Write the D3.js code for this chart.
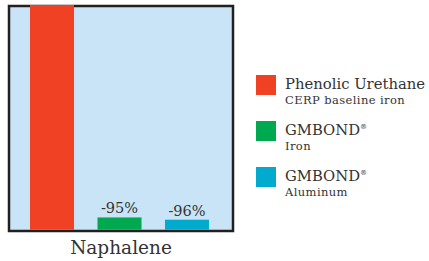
<!DOCTYPE html>
<html>
<head>
<meta charset="utf-8">
<script src="https://cdn.jsdelivr.net/npm/d3@7"></script>
<style>
  body { margin: 0; background: #fff; }
</style>
</head>
<body>
<svg id="chart"></svg>
<script>
const svgWidth = 429;
const svgHeight = 261;

// data
const categories = ["Phenolic Urethane", "GMBOND Iron", "GMBOND Aluminum"];
const values = [100, 6, 5];
const barLabels = ["", "-95%", "-96%"];
const colors = ["#f04124", "#00a94f", "#00abcd"];
const legendTitles = ["Phenolic Urethane", "GMBOND", "GMBOND"];
const legendSupers = ["", "®", "®"];
const legendSubs = ["CERP baseline iron", "Iron", "Aluminum"];
const groupLabel = "Naphalene";

const serif = "'DejaVu Serif', 'Liberation Serif', serif";

const svg = d3.select("#chart")
    .attr("width", svgWidth)
    .attr("height", svgHeight)
    .attr("font-family", serif);

const frame = {left: 9, right: 233, top: 6, bottom: 231};

const x = d3.scaleBand()
    .domain(categories)
    .range([18.25, 220.75])
    .paddingInner(0.348)
    .paddingOuter(0.174);

const y = d3.scaleLinear()
    .domain([0, 100])
    .range([frame.bottom, 5]);

// plot background
svg.append("rect")
    .attr("x", frame.left)
    .attr("y", frame.top)
    .attr("width", frame.right - frame.left)
    .attr("height", frame.bottom - frame.top)
    .attr("fill", "#c8e4f6")
    .attr("stroke", "#231f20")
    .attr("stroke-width", 2.5)

const bars = svg.append("g")
bars.selectAll("rect")
    .data(categories)
    .join("rect")
    .attr("x", d => x(d))
    .attr("y", (d, i) => y(values[i]))
    .attr("width", x.bandwidth())
    .attr("height", (d, i) => y(0) - y(values[i]) - 1.25)
    .attr("fill", (d, i) => colors[i])

bars.selectAll("text")
    .data(categories)
    .join("text")
    .attr("x", d => x(d) + x.bandwidth() / 2)
    .attr("y", (d, i) => y(values[i]) - 4)
    .attr("text-anchor", "middle")
    .attr("font-size", 14.5)
    .attr("fill", "#333")
    .text((d, i) => barLabels[i])

svg.append("text")
    .attr("x", (frame.left + frame.right) / 2)
    .attr("y", 254)
    .attr("text-anchor", "middle")
    .attr("font-size", 18.5)
    .attr("fill", "#333")
    .text(groupLabel)

// legend
const legend = svg.append("g").attr("transform", "translate(256,75)")
const item = legend.selectAll("g")
    .data(categories)
    .join("g")
    .attr("transform", (d, i) => `translate(0,${i * 46})`)

item.append("rect")
    .attr("width", 20)
    .attr("height", 20)
    .attr("fill", (d, i) => colors[i])

const title = item.append("text")
    .attr("x", 29)
    .attr("y", 14)
    .attr("font-size", 14.8)
    .attr("fill", "#333")
title.append("tspan").text((d, i) => legendTitles[i])
title.append("tspan")
    .attr("font-size", 7)
    .attr("dy", -6)
    .text((d, i) => legendSupers[i])

item.append("text")
    .attr("x", 29)
    .attr("y", 28.5)
    .attr("font-size", 11.5)
    .attr("letter-spacing", 0.4)
    .attr("fill", "#333")
    .text((d, i) => legendSubs[i])
</script>
</body>
</html>
